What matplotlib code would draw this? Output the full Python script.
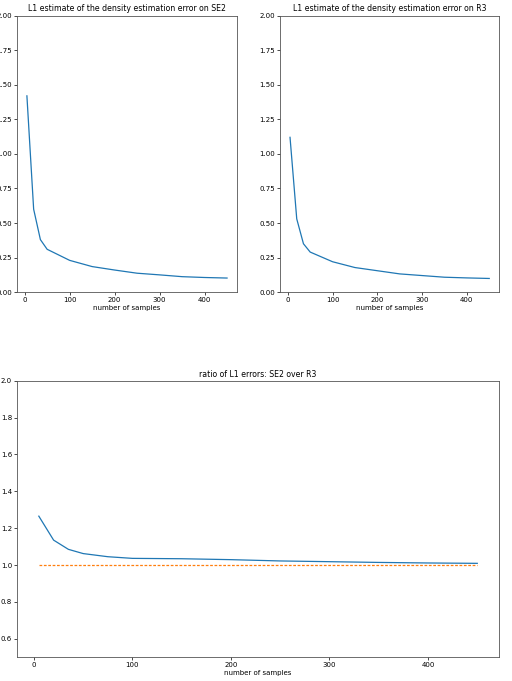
import matplotlib.pyplot as plt

# number of samples
n_samples = [5, 20, 35, 50, 75, 100, 150, 200, 250, 300, 350, 400, 450]

# L1 errors
err_se2 = [1.42, 0.60, 0.38, 0.31, 0.27, 0.23, 0.185, 0.16, 0.137, 0.125, 0.112, 0.106, 0.102]
err_r3 = [1.12, 0.53, 0.35, 0.29, 0.255, 0.22, 0.178, 0.155, 0.132, 0.12, 0.108, 0.103, 0.099]

# ratio SE2 / R3
ratio = [1.265, 1.135, 1.085, 1.062, 1.045, 1.036, 1.034, 1.029, 1.022, 1.018, 1.014, 1.011, 1.009]
reference = [1.0] * len(n_samples)

fs = 5

fig = plt.figure(figsize=(5.12, 6.81), dpi=100)
ax1 = fig.add_axes([0.033, 0.571, 0.430, 0.406])
ax2 = fig.add_axes([0.547, 0.571, 0.428, 0.406])
ax3 = fig.add_axes([0.033, 0.035, 0.942, 0.406])

for ax, err, name in [(ax1, err_se2, "SE2"), (ax2, err_r3, "R3")]:
    ax.plot(n_samples, err, color="#1f77b4", linewidth=0.9)
    ax.set_ylim(0, 2.0)
    ax.set_title(f"L1 estimate of the density estimation error on {name}", fontsize=fs + 0.6, pad=3)
    ax.set_xlabel("number of samples", fontsize=fs, labelpad=1.5)

ax3.plot(n_samples, ratio, color="#1f77b4", linewidth=0.9)
ax3.plot(n_samples, reference, color="#ff7f0e", linestyle="--", dashes=(2.2, 1.3), linewidth=0.9)
ax3.set_ylim(0.5, 2.0)
ax3.set_title("ratio of L1 errors: SE2 over R3", fontsize=fs + 0.6, pad=3)
ax3.set_xlabel("number of samples", fontsize=fs, labelpad=1.5)

for ax in [ax1, ax2, ax3]:
    ax.tick_params(labelsize=fs, length=2, width=0.5, pad=1.5)
    for s in ax.spines.values():
        s.set_linewidth(0.6)
        s.set_color("#555555")

fig.savefig("out.png", dpi=100)
